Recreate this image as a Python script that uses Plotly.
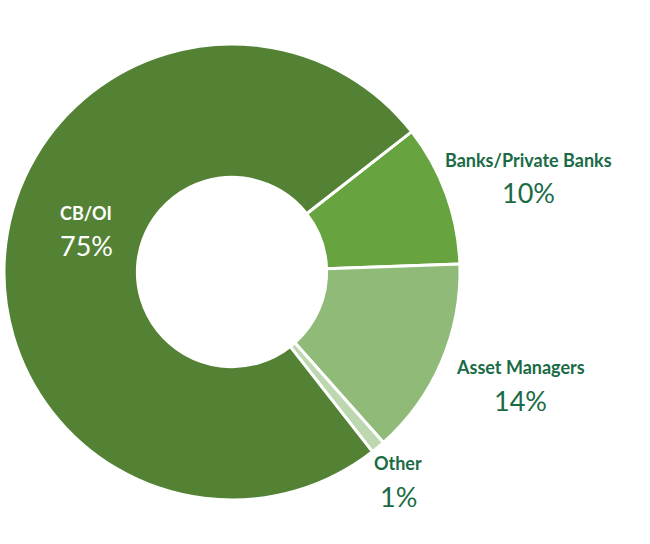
import plotly.graph_objects as go

labels = ["Banks/Private Banks", "Asset Managers", "Other", "CB/OI"]
values = [10, 14, 1, 75]
colors = ["#67A33F", "#8FBA78", "#BDD7B0", "#548235"]
pct_text = ["10%", "14%", "1%", "75%"]
text_colors = ["#1A6B45", "#1A6B45", "#1A6B45", "#FFFFFF"]

W, H = 650, 544
# label anchor positions (pixels) for each category: name line and percent line
name_xy = [(528, 160), (520, 367), (398, 463), (86, 213)]
pct_xy = [(528, 193), (520, 400), (398, 496), (86, 245)]

fig = go.Figure(go.Pie(
    labels=labels,
    values=values,
    sort=False,
    direction="clockwise",
    rotation=52,
    hole=0.415,
    marker=dict(colors=colors, line=dict(color="white", width=3)),
    textinfo="none",
    hoverinfo="label+percent",
    domain=dict(x=[4 / W, 460 / W], y=[1 - 500 / H, 1 - 44 / H]),
    showlegend=False,
))

for lab, pct, col, (nx, ny), (px, py) in zip(labels, pct_text, text_colors, name_xy, pct_xy):
    fig.add_annotation(
        x=nx / W, y=1 - ny / H, xref="paper", yref="paper",
        text=f"<b>{lab}</b>", showarrow=False,
        font=dict(family="Lato, Open Sans, sans-serif", color=col, size=18),
        xanchor="center", yanchor="middle",
    )
    fig.add_annotation(
        x=px / W, y=1 - py / H, xref="paper", yref="paper",
        text=pct, showarrow=False,
        font=dict(family="Lato, Open Sans, sans-serif", color=col, size=27),
        xanchor="center", yanchor="middle",
    )

fig.update_layout(
    width=W, height=H,
    margin=dict(l=0, r=0, t=0, b=0),
    paper_bgcolor="white", plot_bgcolor="white",
)

fig.write_html("out.html", config={"displayModeBar": False},
               post_script="document.body.style.margin='0';")
